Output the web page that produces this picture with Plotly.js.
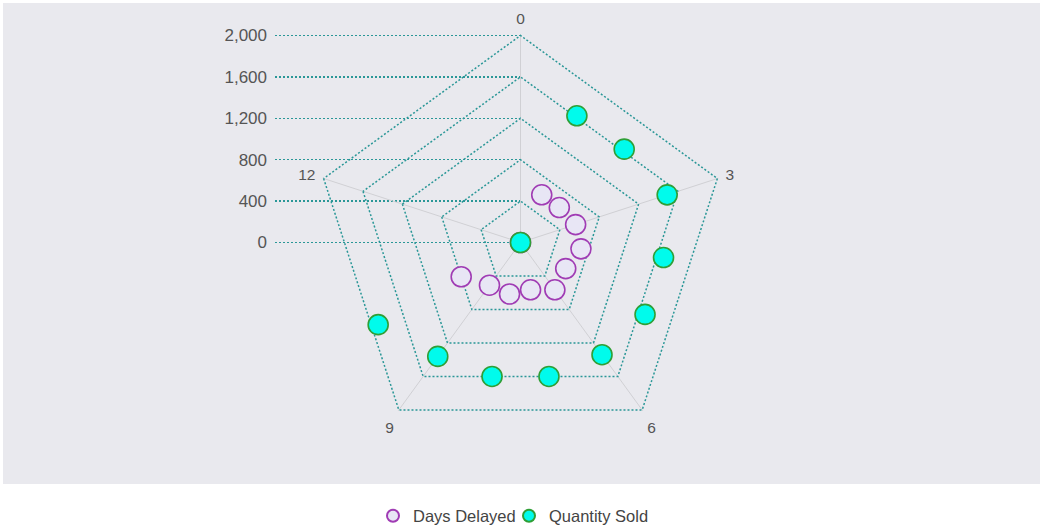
<!DOCTYPE html>
<html>
<head>
<meta charset="utf-8">
<script src="https://cdn.plot.ly/plotly-3.0.1.min.js"></script>
<style>
html,body{margin:0;padding:0;background:#ffffff;}
#chart{width:1040px;height:527px;}
</style>
</head>
<body>
<div id="chart"></div>
<script>
// ---- data ----
const spokeLabels = ['0', '3', '6', '9', '12'];
const anglePositions = ['0','1','2','3','4','5','6','7','8','9','10','11','12','13','14'];
const pointIndex = [0, 1, 2, 3, 4, 5, 6, 7, 8, 9, 10];
const daysDelayed = [0, 610, 610, 560, 710, 610, 565, 565, 615, 510, 800];
const quantitySold = [0, 1620, 1630, 1490, 1680, 1680, 1340, 1600, 1600, 1360, 1920];
const radialTicks = [0, 400, 800, 1200, 1600, 2000];
const radialMax = 2000;

// ---- styling ----
const W = 1040, H = 527;
const cx = 520.5, cy = 242.5, R = 207;     // pixel radius of the 2000 level
const pad = 10;                             // small range padding so edge grid lines are drawn
const teal = '#2a9797';
const txt = '#555555';
const fontFam = 'Liberation Sans, Arial, sans-serif';
const dotted = '2px,2px';

// the original radar joins in-between points along the straight polygon edges
const spokeStep = 3; // positions per spoke
function onPolygon(v, k) {
  const sector = 360 / spokeLabels.length;
  const a = (k % spokeStep) * (sector / spokeStep);
  const half = sector / 2;
  return v * Math.cos(half * Math.PI / 180) / Math.cos((a - half) * Math.PI / 180);
}

const Rd = R * (radialMax + pad) / radialMax;
const polarDomain = {
  x: [(cx - Rd) / W, (cx + Rd) / W],
  y: [1 - (cy + Rd) / H, 1 - (cy - Rd) / H]
};
const pxPerUnit = R / radialMax;

const traces = [
  { // carries the pentagon grid
    type: 'scatterpolar', subplot: 'polar',
    r: spokeLabels.map(() => 0), theta: spokeLabels,
    mode: 'markers', marker: {opacity: 0}, showlegend: false, hoverinfo: 'skip'
  },
  {
    type: 'scatter', xaxis: 'x', yaxis: 'y', x: [], y: [],
    showlegend: false, hoverinfo: 'skip'
  },
  {
    type: 'scatterpolar', subplot: 'polar2', name: 'Days Delayed', legend: 'legend',
    theta: pointIndex.map(i => anglePositions[i]),
    r: daysDelayed.map((v, i) => onPolygon(v, pointIndex[i])),
    mode: 'markers',
    marker: {size: 20, color: '#e8e6f5', line: {color: '#a03cb4', width: 1.6}}
  },
  {
    type: 'scatterpolar', subplot: 'polar2', name: 'Quantity Sold', legend: 'legend2',
    theta: pointIndex.map(i => anglePositions[i]),
    r: quantitySold.map((v, i) => onPolygon(v, pointIndex[i])),
    mode: 'markers',
    marker: {size: 20, color: '#00fbec', line: {color: '#2f9f36', width: 1.6}}
  }
];

const legendBase = {
  orientation: 'h', xanchor: 'left', y: 1 - 516 / H, yanchor: 'middle',
  font: {size: 16.5, color: '#444'}, bgcolor: 'rgba(0,0,0,0)', itemsizing: 'constant'
};

const layout = {
  width: W, height: H,
  margin: {l: 0, r: 0, t: 0, b: 0, autoexpand: false},
  paper_bgcolor: '#ffffff',
  plot_bgcolor: 'rgba(0,0,0,0)',
  font: {family: fontFam, color: txt, size: 15},
  showlegend: true,
  legend: Object.assign({}, legendBase, {x: 373 / W}),
  legend2: Object.assign({}, legendBase, {x: 509 / W}),
  shapes: [{
    type: 'rect', xref: 'paper', yref: 'paper', layer: 'below',
    x0: 3 / W, x1: 1, y0: 1 - 484 / H, y1: 1 - 3 / H,
    fillcolor: '#e9e9ee', line: {width: 0}
  }],
  polar: {
    domain: polarDomain,
    gridshape: 'linear',
    bgcolor: 'rgba(0,0,0,0)',
    angularaxis: {
      type: 'category', categoryorder: 'array', categoryarray: spokeLabels,
      period: spokeLabels.length,
      rotation: 90, direction: 'clockwise',
      showgrid: true, gridcolor: '#d0d0d4', gridwidth: 1,
      showline: false, ticks: 'outside', ticklen: 4, tickcolor: 'rgba(0,0,0,0)',
      tickfont: {size: 15.5, color: txt, family: fontFam}
    },
    radialaxis: {
      range: [0, radialMax + pad], tickvals: radialTicks,
      showticklabels: false, ticks: '', showline: false,
      gridcolor: teal, gridwidth: 1.5, griddash: dotted
    }
  },
  polar2: {
    domain: polarDomain,
    bgcolor: 'rgba(0,0,0,0)',
    angularaxis: {
      type: 'category', categoryorder: 'array', categoryarray: anglePositions,
      period: anglePositions.length,
      rotation: 90, direction: 'clockwise', visible: false
    },
    radialaxis: {range: [0, radialMax + pad], visible: false}
  },
  xaxis: {
    domain: [275 / W, cx / W], range: [0, 1],
    visible: false, fixedrange: true
  },
  yaxis: {
    domain: [1 - (cy + pad * pxPerUnit) / H, 1 - (cy - R - pad * pxPerUnit) / H],
    range: [-pad, radialMax + pad],
    tickvals: radialTicks, tickformat: ',d',
    showgrid: true, gridcolor: teal, gridwidth: 1.5, griddash: dotted,
    zeroline: false, showline: false, ticks: '', ticklabelstandoff: 7,
    tickfont: {size: 17, color: txt, family: fontFam}, fixedrange: true
  }
};

Plotly.newPlot('chart', traces, layout, {displayModeBar: false, staticPlot: true});
</script>
</body>
</html>
